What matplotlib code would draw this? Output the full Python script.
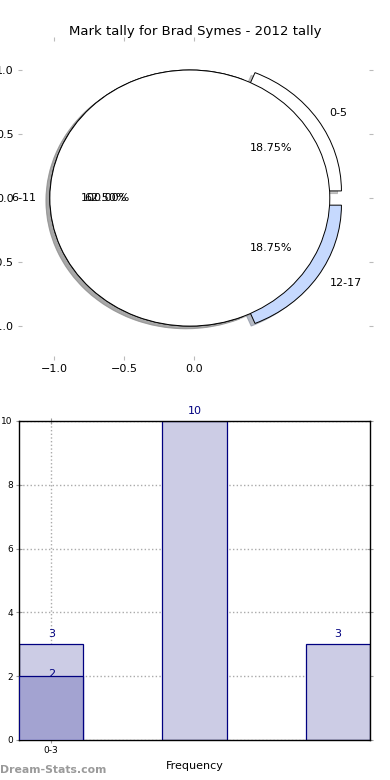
import matplotlib
matplotlib.use("Agg")
import matplotlib.pyplot as plt

# ---- data ----
pie_labels = ["0-5", "6-11", "12-17"]
pie_values = [3, 10, 3]
pie_colors = ["#ffffff", "#ffffff", "#c6d9fe"]
pie_explode = [0.1, 0.0, 0.1]
total_values = [16]
total_labels = [""]

bar_values = [3, 10, 3]
overlay_values = [2]
bar_ticklabels = ["0-3"]
title = "Mark tally for Brad Symes - 2012 tally"

fig = plt.figure(figsize=(3.9, 7.8), dpi=100)

# ---- pie ----
ax1 = fig.add_axes([0.0564, 0.5442, 0.8897, 0.4038])
wp = dict(edgecolor="black", linewidth=0.7)
shadow = dict(ox=-0.02, oy=-0.015, shade=0.45)
ctr = (-0.03, 0.0)
ax1.pie(pie_values, labels=pie_labels, colors=pie_colors, explode=pie_explode,
        autopct="%1.2f%%", startangle=0, shadow=shadow, wedgeprops=wp,
        center=ctr, textprops=dict(fontsize=8))
ax1.pie(total_values, labels=total_labels, colors=["#ffffff"], autopct="%1.2f%%",
        startangle=0, shadow=shadow, wedgeprops=wp, center=ctr,
        textprops=dict(fontsize=8))
ax1.set_aspect("auto")
ax1.set_xlim(-1.229, 1.25)
ax1.set_ylim(-1.23, 1.23)
ax1.set_xticks([-1.0, -0.5, 0.0])
ax1.set_xticklabels(["\u22121.0", "\u22120.5", "0.0"])
ax1.set_yticks([-1.0, -0.5, 0.0, 0.5, 1.0])
ax1.set_yticklabels(["\u22121.0", "\u22120.5", "0.0", "0.5", "1.0"])
ax1.tick_params(axis="both", which="both", labelsize=8, color="#bbbbbb",
                top=True, right=True, length=3, pad=3)
ax1.set_frame_on(False)
ax1.set_title(title, fontsize=9.5, pad=4)

# ---- bars ----
ax2 = fig.add_axes([0.0487, 0.0513, 0.9, 0.409])
x = list(range(len(bar_values)))
navy = "#000080"
bars = ax2.bar(x, bar_values, width=0.45, color="#ccccE5", edgecolor=navy,
               linewidth=0.9, zorder=2)
ob = ax2.bar(list(range(len(overlay_values))), overlay_values, width=0.45,
             color="#a3a3d1", edgecolor=navy, linewidth=0.9, zorder=3)
for r, v in zip(bars, bar_values):
    ax2.text(r.get_x() + r.get_width() / 2, v + 0.15, str(v), ha="center",
             va="bottom", color=navy, fontsize=8, zorder=4)
for r, v in zip(ob, overlay_values):
    ax2.text(r.get_x() + r.get_width() / 2, v - 0.1, str(v), ha="center",
             va="bottom", color=navy, fontsize=8, zorder=4)
ax2.set_xlim(-0.225, 2.225)
ax2.set_ylim(0, 10)
ax2.set_yticks([0, 2, 4, 6, 8, 10])
ax2.set_xticks(list(range(len(bar_ticklabels))))
ax2.set_xticklabels(bar_ticklabels)
ax2.tick_params(axis="both", labelsize=6.5, color="#999999", top=True, right=True,
                direction="inout", length=5, pad=2)
ax2.grid(True, linestyle=":", color="#aaaaaa", linewidth=1.0, zorder=0)
ax2.set_axisbelow(True)
ax2.set_xlabel("Frequency", fontsize=8, labelpad=4)
ax2.set_ylabel("Last Mark Tally", fontsize=8, labelpad=0)
for s in ax2.spines.values():
    s.set_linewidth(1.0)

fig.text(0.0, 0.006, "Dream-Stats.com", fontsize=7.8, color="#9a9a9a",
         fontweight="bold", ha="left", va="bottom")

fig.savefig("out.png", dpi=100)
